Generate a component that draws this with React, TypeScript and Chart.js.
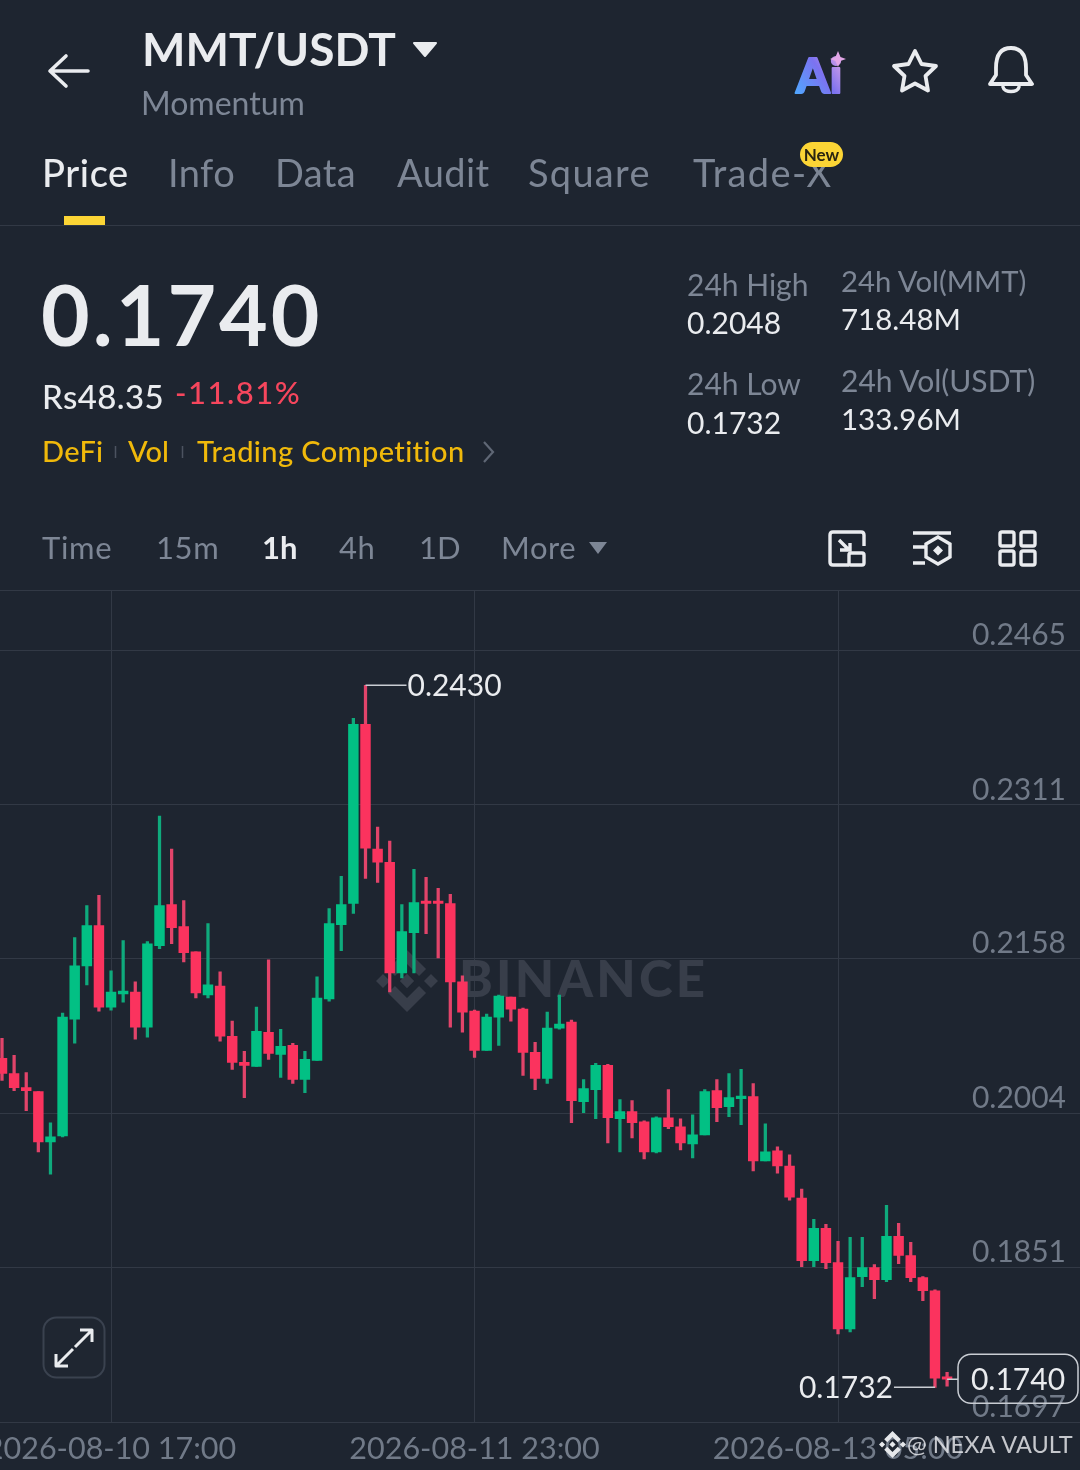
import React, { useEffect, useRef } from "react";
import { Chart, registerables } from "chart.js";

Chart.register(...registerables);

const highs = [0.2079,0.2062,0.2045,0.2026,0.1995,0.2104,0.2179,0.2211,0.2221,0.2146,0.2176,0.2135,0.2175,0.2300,0.2267,0.2216,0.2165,0.2193,0.2145,0.2096,0.2066,0.2110,0.2157,0.2088,0.2074,0.2066,0.2140,0.2208,0.2240,0.2397,0.2430,0.2289,0.2275,0.2212,0.2247,0.2239,0.2228,0.2222,0.2141,0.2107,0.2103,0.2122,0.2120,0.2109,0.2075,0.2105,0.2122,0.2097,0.2038,0.2054,0.2053,0.2018,0.2017,0.1997,0.2001,0.2028,0.1999,0.2003,0.2028,0.2038,0.2044,0.2048,0.2034,0.1994,0.1971,0.1963,0.1929,0.1899,0.1894,0.1877,0.1881,0.1881,0.1854,0.1913,0.1895,0.1876,0.1842,0.1829,0.1747];
const lows = [0.2037,0.2027,0.2007,0.1966,0.1944,0.1981,0.2074,0.2132,0.2106,0.2107,0.2115,0.2078,0.2080,0.2168,0.2173,0.2155,0.2119,0.2119,0.2076,0.2048,0.2020,0.2051,0.2058,0.2040,0.2034,0.2025,0.2057,0.2116,0.2166,0.2203,0.2238,0.2234,0.2125,0.2139,0.2144,0.2183,0.2159,0.2090,0.2085,0.2060,0.2067,0.2072,0.2096,0.2042,0.2028,0.2034,0.2088,0.1995,0.2005,0.1999,0.1975,0.1966,0.1980,0.1959,0.1965,0.1989,0.1968,0.1960,0.1983,0.1996,0.2001,0.1993,0.1947,0.1957,0.1945,0.1918,0.1852,0.1852,0.1850,0.1785,0.1787,0.1832,0.1820,0.1837,0.1855,0.1837,0.1818,0.1732,0.1733];
const opens = [0.2059,0.2044,0.2030,0.2026,0.1976,0.1982,0.2098,0.2151,0.2191,0.2110,0.2123,0.2125,0.2090,0.2171,0.2212,0.2190,0.2165,0.2122,0.2131,0.2081,0.2055,0.2051,0.2085,0.2063,0.2072,0.2038,0.2057,0.2118,0.2192,0.2213,0.2391,0.2267,0.2254,0.2144,0.2184,0.2215,0.2215,0.2213,0.2135,0.2106,0.2067,0.2100,0.2120,0.2108,0.2065,0.2039,0.2089,0.2095,0.2016,0.2028,0.2052,0.1999,0.2006,0.1996,0.1966,0.2000,0.1991,0.1974,0.1983,0.2027,0.2011,0.2019,0.2021,0.1957,0.1967,0.1952,0.1920,0.1858,0.1890,0.1856,0.1790,0.1842,0.1851,0.1839,0.1882,0.1863,0.1841,0.1828,0.1742];
const closes = [0.2044,0.2030,0.2027,0.1976,0.1981,0.2100,0.2151,0.2191,0.2110,0.2125,0.2126,0.2090,0.2173,0.2211,0.2189,0.2164,0.2124,0.2132,0.2081,0.2055,0.2052,0.2086,0.2064,0.2071,0.2038,0.2058,0.2119,0.2193,0.2212,0.2391,0.2268,0.2254,0.2144,0.2185,0.2214,0.2213,0.2213,0.2135,0.2105,0.2067,0.2100,0.2121,0.2108,0.2065,0.2039,0.2089,0.2093,0.2017,0.2029,0.2052,0.2000,0.2006,0.1995,0.1966,0.2000,0.1991,0.1975,0.1983,0.2026,0.2010,0.2020,0.2021,0.1957,0.1966,0.1952,0.1921,0.1858,0.1890,0.1856,0.1790,0.1841,0.1851,0.1839,0.1882,0.1863,0.1841,0.1828,0.1741,0.1740];

const priceTicks = [0.2465, 0.2311, 0.2158, 0.2004, 0.1851, 0.1697];
const timeTickIndex = [9, 39, 69];
const timeTickLabels = ["2026-08-10 17:00", "2026-08-11 23:00", "2026-08-13 05:00"];
const tabs = ["Price", "Info", "Data", "Audit", "Square", "Trade-X"];

const BG = "#1E2530";
const GRID = "#323945";
const UP = "#02C084";
const DOWN = "#FB335E";
const UP_WICK = "#0FAA7C";
const DOWN_WICK = "#E2446A";
const AXIS = "#717A88";
const LIGHT = "#EAECEF";
const MUTED = "#7D8695";
const YELLOW = "#F0B90B";
const FONT = "Lato, 'Open Sans', sans-serif";
const LOGO =
  "M38.73 53.2L63.3 28.6L87.9 53.2L102.2 38.9L63.3 0L24.4 38.9ZM0 63.3L14.3 49L28.6 63.3L14.3 77.6ZM38.73 73.4L63.3 98L87.9 73.4L102.2 87.7L63.3 126.6L24.4 87.7ZM98 63.3L112.3 49L126.6 63.3L112.3 77.6ZM77.9 63.3L63.3 48.6L48.7 63.3L63.3 77.9Z";

const drawLogo = (ctx: CanvasRenderingContext2D, x: number, y: number, size: number, color: string) => {
  ctx.save();
  ctx.translate(x, y);
  ctx.scale(size / 126.6, size / 126.6);
  ctx.fillStyle = color;
  ctx.fill(new Path2D(LOGO));
  ctx.restore();
};

const watermark = {
  id: "watermark",
  beforeDatasetsDraw(chart: any) {
    const ctx = chart.ctx as CanvasRenderingContext2D;
    ctx.save();
    drawLogo(ctx, 376, 950, 62, "#383E4A");
    ctx.fillStyle = "#383E4A";
    ctx.font = `900 51px ${FONT}`;
    (ctx as any).letterSpacing = "3.2px";
    ctx.textAlign = "left";
    ctx.textBaseline = "alphabetic";
    ctx.fillText("BINANCE", 459, 997);
    ctx.restore();
  },
};

const markers = {
  id: "markers",
  afterDatasetsDraw(chart: any) {
    const ctx = chart.ctx as CanvasRenderingContext2D;
    const { x, y } = chart.scales;
    const hi = Math.max(...highs);
    const lo = Math.min(...lows);
    const last = closes[closes.length - 1];
    const hiX = x.getPixelForValue(highs.indexOf(hi));
    const loX = x.getPixelForValue(lows.indexOf(lo));
    const lastX = x.getPixelForValue(closes.length - 1);
    ctx.save();
    ctx.strokeStyle = "#C9CDD3";
    ctx.lineWidth = 1.5;
    ctx.beginPath();
    ctx.moveTo(hiX, y.getPixelForValue(hi));
    ctx.lineTo(hiX + 41, y.getPixelForValue(hi));
    ctx.moveTo(loX, y.getPixelForValue(lo));
    ctx.lineTo(loX - 41, y.getPixelForValue(lo));
    ctx.moveTo(lastX, y.getPixelForValue(last));
    ctx.lineTo(lastX + 11, y.getPixelForValue(last));
    ctx.stroke();
    ctx.fillStyle = LIGHT;
    ctx.font = `400 30px ${FONT}`;
    ctx.textBaseline = "middle";
    ctx.textAlign = "left";
    ctx.fillText(hi.toFixed(4), hiX + 42, y.getPixelForValue(hi) + 1);
    ctx.textAlign = "right";
    ctx.fillText(lo.toFixed(4), loX - 42, y.getPixelForValue(lo) + 1);
    const ly = y.getPixelForValue(last);
    ctx.beginPath();
    (ctx as any).roundRect(958, ly - 25, 120, 49, 13);
    ctx.stroke();
    ctx.textAlign = "center";
    ctx.fillText(last.toFixed(4), 1018, ly + 1);
    drawLogo(ctx, 879, 1431, 27, "#E6E8EB");
    ctx.textAlign = "left";
    ctx.font = `400 23.500px ${FONT}`;
    ctx.fillStyle = "rgba(234,236,239,0.82)";
    ctx.fillText("@ NEXA VAULT", 907, 1445);
    ctx.restore();
  },
};

function T(p: { x: number; y: number; s: number; c: string; w?: number; ls?: number; children: React.ReactNode }) {
  return (
    <div
      style={{
        position: "absolute",
        left: p.x,
        top: p.y,
        fontSize: p.s,
        color: p.c,
        fontWeight: p.w ?? 400,
        letterSpacing: p.ls ?? 0,
        lineHeight: 1,
        transform: "translateY(calc(-50% - 1.5px))",
        whiteSpace: "nowrap",
        fontFamily: FONT,
        fontVariantLigatures: "none",
      }}
    >
      {p.children}
    </div>
  );
}

function Rule({ y }: { y: number }) {
  return <div style={{ position: "absolute", left: 0, top: y, width: 1080, height: 1, background: GRID }} />;
}

const tabX = [42, 168, 275, 397, 528, 693];
const tabLs = [0.6, 0.4, 0.4, 0.4, 1.3, 1.4];

export default function App() {
  const ref = useRef<HTMLCanvasElement>(null);
  useEffect(() => {
    document.body.style.margin = "0";
    document.body.style.background = BG;
    const idx = highs.map((_, i) => i);
    const isUp = (i: number) => closes[i] >= opens[i];
    const chart = new Chart(ref.current as HTMLCanvasElement, {
      type: "bar",
      data: {
        datasets: [
          {
            label: "wick",
            data: idx.map((i) => ({ x: i, y: [lows[i], highs[i]] })),
            backgroundColor: idx.map((i) => (isUp(i) ? UP_WICK : DOWN_WICK)),
            barThickness: 2.6,
            grouped: false,
            order: 2,
          },
          {
            label: "body",
            data: idx.map((i) => ({ x: i, y: [opens[i], closes[i]] })),
            backgroundColor: idx.map((i) => (isUp(i) ? UP : DOWN)),
            barThickness: 9.8,
            grouped: false,
            order: 1,
            minBarLength: 2.5,
          },
        ],
      } as any,
      options: {
        responsive: false,
        animation: false,
        devicePixelRatio: 1,
        events: [],
        layout: { autoPadding: false, padding: { top: 591, left: 0, right: 0, bottom: 0 } },
        plugins: { legend: { display: false }, tooltip: { enabled: false } },
        scales: {
          x: {
            type: "linear",
            offset: false,
            bounds: "data",
            min: -0.165,
            max: 88.97,
            grid: { color: GRID, lineWidth: 1, offset: false, drawTicks: false },
            border: { display: false },
            afterFit: (s: any) => {
              s.height = 47.5;
              s.paddingLeft = 0;
              s.paddingRight = 0;
            },
            afterBuildTicks: (s: any) => {
              s.ticks = timeTickIndex.map((value) => ({ value }));
            },
            ticks: {
              autoSkip: false,
              maxRotation: 0,
              padding: 8,
              color: AXIS,
              font: { family: FONT, size: 30.5 },
              callback: (v: any) => timeTickLabels[timeTickIndex.indexOf(v)],
            },
          },
          y: {
            type: "linear",
            position: "right",
            bounds: "data",
            min: 0.1697,
            max: 0.252366,
            grid: { color: GRID, lineWidth: 1, drawTicks: false },
            border: { display: false },
            afterFit: (s: any) => {
              s.width = 0;
              s.paddingTop = 0;
              s.paddingBottom = 0;
            },
            afterBuildTicks: (s: any) => {
              s.ticks = priceTicks.map((value) => ({ value }));
            },
            ticks: {
              mirror: true,
              padding: -14,
              labelOffset: -15,
              color: AXIS,
              font: { family: FONT, size: 30 },
              callback: (v: any) => Number(v).toFixed(4),
            },
          },
        },
      } as any,
      plugins: [watermark, markers],
    });
    return () => chart.destroy();
  }, []);

  return (
    <div style={{ position: "absolute", left: 0, top: 0, width: 1080, height: 1470, background: BG, overflow: "hidden" }}>
      <canvas ref={ref} width={1080} height={1470} style={{ position: "absolute", left: 0, top: 0, width: 1080, height: 1470 }} />

      <svg width={1080} height={600} style={{ position: "absolute", left: 0, top: 0 }}>
        <path d="M88 71H51M66 56L50 71L66 86" fill="none" stroke={LIGHT} strokeWidth={3.6} strokeLinecap="round" strokeLinejoin="round" />
        <path d="M414 43H436L425 56Z" fill={LIGHT} stroke={LIGHT} strokeWidth={2} strokeLinejoin="round" />
        <defs>
          <linearGradient id="ai" gradientUnits="userSpaceOnUse" x1="795" y1="94" x2="846" y2="60">
            <stop offset="0" stopColor="#4FA8FF" />
            <stop offset="0.55" stopColor="#7C72F0" />
            <stop offset="1" stopColor="#E2A6E6" />
          </linearGradient>
        </defs>
        <text x={796} y={93} fontFamily={FONT} fontWeight={900} fontSize={48} fill="url(#ai)" stroke="url(#ai)" strokeWidth={2} strokeLinejoin="round">Ai</text>
        <path d="M838 52L840.5 58L846 60L840.5 62L838 68L835.5 62L830 60L835.5 58Z" fill="#E2A6E6" transform="translate(0,-1)" />
        <path d="M915 51L921.5 64L936 66L925.5 76L928 90.5L915 83.5L902 90.5L904.5 76L894 66L908.5 64Z" fill="none" stroke={LIGHT} strokeWidth={3.8} strokeLinejoin="round" />
        <path d="M996 68C996 54 1002 48 1011 48C1020 48 1026 54 1026 68V75L1032 84H990L996 75Z" fill="none" stroke={LIGHT} strokeWidth={3.8} strokeLinejoin="round" />
        <path d="M1003 87C1004 93 1018 93 1019 87" fill="none" stroke={LIGHT} strokeWidth={3.5} strokeLinecap="round" />
        <rect x={64} y={216} width={41} height={9} fill="#FCD535" />
        <path d="M484 442L493 452L484 462" fill="none" stroke="#5F6775" strokeWidth={2.2} />
        <path d="M115.500 446V458M182.500 446V458" stroke="#4C5360" strokeWidth={1.5} />
        <path d="M589 542H607L598 554Z" fill={MUTED} />
        <g fill="none" stroke={LIGHT} strokeWidth={3.4}>
          <path d="M849 565H833Q830 565 830 562V535Q830 532 833 532H861Q864 532 864 535V546" />
          <rect x={849} y={553} width={15} height={12} rx={2} />
          <path d="M839 540L849 550M840 550H850V543" />
          <path d="M913 533H951M913 547H925M913 563H925" />
          <path d="M938 537L950 544V557L938 564L926 557V544Z" />
          <rect x={1000} y={532} width={14} height={14} rx={2} />
          <rect x={1021} y={532} width={14} height={14} rx={2} />
          <rect x={1000} y={551} width={14} height={14} rx={2} />
          <rect x={1021} y={551} width={14} height={14} rx={2} />
        </g>
        <path d="M938 545.500L943 550.500L938 555.500L933 550.500Z" fill={LIGHT} />
      </svg>

      <T x={142} y={50} s={46} c={LIGHT} w={700}>MMT/USDT</T>
      <T x={141} y={104} s={32} c={MUTED}>Momentum</T>
      {tabs.map((t, i) => (
        <T key={t} x={tabX[i]} y={173} s={38} c={i === 0 ? LIGHT : MUTED} w={i === 0 ? 500 : 400} ls={tabLs[i]}>{t}</T>
      ))}
      <div style={{ position: "absolute", left: 800, top: 142, width: 43, height: 25, borderRadius: 13, background: "#FCD535", color: "#2A2410", fontFamily: FONT, fontWeight: 700, fontSize: 17, lineHeight: "25px", textAlign: "center" }}>New</div>
      <Rule y={225} />

      <T x={41} y={315} s={84} c={LIGHT} w={700} ls={3}>0.1740</T>
      <T x={42} y={398} s={33} c={LIGHT} w={500} ls={0.4}>Rs48.35</T>
      <T x={175} y={394} s={31} c="#F6465D" w={500} ls={1.5}>-11.81%</T>
      <T x={42} y={452} s={29} c={YELLOW} w={500} ls={0.3}>DeFi</T>
      <T x={128} y={452} s={29} c={YELLOW} w={500}>Vol</T>
      <T x={197} y={452} s={29} c={YELLOW} w={500} ls={0.4}>Trading Competition</T>

      <T x={687} y={285} s={30} c={MUTED}>24h High</T>
      <T x={687} y={323} s={30} c={LIGHT}>0.2048</T>
      <T x={687} y={384} s={30} c={MUTED}>24h Low</T>
      <T x={687} y={423} s={30} c={LIGHT}>0.1732</T>
      <T x={841} y={282} s={29.300} c={MUTED}>24h Vol(MMT)</T>
      <T x={841} y={320} s={29.500} c={LIGHT}>718.48M</T>
      <T x={841} y={381} s={30} c={MUTED}>24h Vol(USDT)</T>
      <T x={841} y={420} s={29.500} c={LIGHT}>133.96M</T>

      <T x={42} y={549} s={31} c={MUTED} ls={0.7}>Time</T>
      <T x={156} y={549} s={31} c={MUTED} ls={0.6}>15m</T>
      <T x={262} y={549} s={31} c={LIGHT} w={700}>1h</T>
      <T x={339} y={549} s={31} c={MUTED} ls={0.6}>4h</T>
      <T x={419} y={549} s={31} c={MUTED}>1D</T>
      <T x={501} y={549} s={31} c={MUTED} ls={0.6}>More</T>
      <Rule y={590} />

      <svg width={64} height={64} style={{ position: "absolute", left: 42, top: 1316 }}>
        <rect x={1.5} y={1.5} width={61} height={60} rx={13} fill="#1F2631" stroke="#3A424F" strokeWidth={2} />
        <path d="M33 31L50 14M38 14H50V26M31 33L14 50M14 38V50H26" fill="none" stroke={LIGHT} strokeWidth={3} strokeLinejoin="round" />
      </svg>
    </div>
  );
}
